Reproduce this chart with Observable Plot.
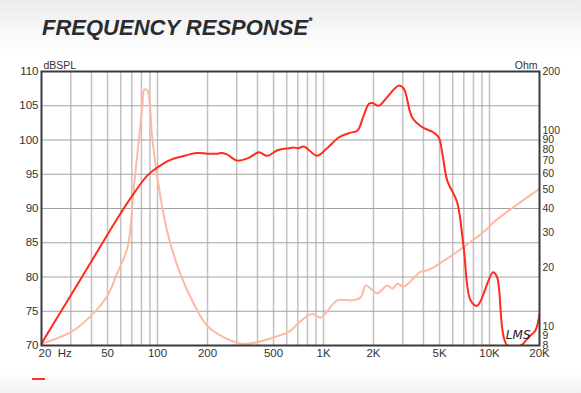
<!DOCTYPE html>
<html>
<head>
<meta charset="utf-8">
<script src="https://cdn.jsdelivr.net/npm/d3@7"></script>
<script src="https://cdn.jsdelivr.net/npm/@observablehq/plot@0.6"></script>
<style>
  html, body { margin: 0; padding: 0; }
  body {
    width: 581px; height: 393px; overflow: hidden; position: relative;
    background: linear-gradient(to bottom, #ececec 0px, #f7f7f7 30px, #ffffff 55px, #ffffff 372px, #f1f1f1 393px);
    font-family: "Liberation Sans", Arial, sans-serif;
  }
  #title {
    position: absolute; left: 42px; top: 15px;
    font: italic bold 22px "Liberation Sans", Arial, sans-serif;
    color: #2b2c31; white-space: nowrap; line-height: 26px;
  }
  #title sup { font-size: 11px; position: relative; top: 1px; vertical-align: top; line-height: 11px; }
  #chart { position: absolute; left: 0; top: 0; }
  #legend {
    position: absolute; left: 32px; top: 378px; width: 13px; height: 2px; background: #ff3322;
  }
</style>
</head>
<body>
<div id="title">FREQUENCY RESPONSE<sup>*</sup></div>
<div id="chart"></div>
<div id="legend"></div>
<script>
// SPL curve (Hz, dB SPL)
const splFreq = [20, 30, 40, 50, 60, 72, 86.7, 100, 119.6, 140, 173, 199, 230, 245, 262, 302, 354, 408, 458, 528, 618, 660, 705, 761, 914, 1030, 1240, 1427, 1603, 1740, 1878, 1967, 2156, 2370, 2846, 3044, 3420, 3920, 4600, 4940, 5200, 5560, 6380, 6980, 7680, 8420, 10500, 11100, 12800, 15400, 17200, 18900, 20000];
const splDb   = [70.3, 77.3, 82.3, 86.2, 89.3, 92.2, 94.8, 96.0, 97.1, 97.6, 98.1, 98.0, 98.0, 98.1, 97.9, 97.0, 97.4, 98.2, 97.7, 98.5, 98.8, 98.9, 98.8, 99.05, 97.7, 98.6, 100.4, 101.0, 101.4, 103.5, 105.3, 105.4, 105.0, 106.0, 107.95, 107.5, 103.3, 101.9, 101.1, 100.4, 98.0, 94.1, 90.9, 84.4, 76.6, 75.8, 80.7, 80.0, 70.0, 70.0, 71.2, 72.2, 74.6];

// Impedance curve (Hz, Ohm)
const impFreq = [20, 30, 40, 50, 57, 66, 72, 81, 83, 86.6, 92.8, 99.7, 114, 137, 165, 199, 251, 330, 502, 632, 696, 858, 960, 1212, 1486, 1678, 1794, 2112, 2420, 2600, 2780, 3044, 3840, 4200, 4800, 6980, 9680, 10600, 20000];
const impOhm  = [8.16, 9.35, 11.4, 14.4, 18.6, 25.4, 51.3, 133, 161, 161, 92.9, 57.8, 30.9, 18.6, 13.1, 10.1, 8.8, 8.15, 8.8, 9.5, 10.3, 11.6, 11.1, 13.6, 13.6, 14.1, 16.2, 14.8, 16.2, 15.6, 16.5, 16.0, 19.0, 19.3, 20.5, 25.4, 31.5, 34.1, 50.4];

// Axis ticks
const xTickValues = [50, 100, 200, 500, 1000, 2000, 5000, 10000, 20000];
const xTickLabels = ["50", "100", "200", "500", "1K", "2K", "5K", "10K", "20K"];
const dbTicks = [70, 75, 80, 85, 90, 95, 100, 105, 110];
const ohmTicks = [8, 9, 10, 20, 30, 40, 50, 60, 70, 80, 90, 100, 200];
const gridFreqs = [30, 40, 50, 60, 70, 80, 90, 100, 200, 300, 400, 500, 600, 700, 800, 900, 1000, 2000, 3000, 4000, 5000, 6000, 7000, 8000, 9000, 10000];
const gridDb = [75, 80, 85, 90, 95, 100, 105];

const ohmMin = 8, ohmMax = 200, dbMin = 70, dbMax = 110;
const ohmToDb = o => dbMin + (dbMax - dbMin) * Math.log(o / ohmMin) / Math.log(ohmMax / ohmMin);

const spl = splFreq.map((f, i) => ({f, v: splDb[i]}));
const imp = impFreq.map((f, i) => ({f, v: ohmToDb(impOhm[i])}));
const xLabels = xTickValues.map((f, i) => ({f, label: xTickLabels[i]}));

const fontFam = '"Liberation Sans", Arial, sans-serif';

const chart = Plot.plot({
  width: 581,
  height: 393,
  marginLeft: 41,
  marginRight: 42,
  marginTop: 71,
  marginBottom: 48,
  style: {background: "transparent", fontFamily: fontFam, fontSize: "11.5px", color: "#333"},
  x: {type: "log", domain: [20, 20000], axis: null},
  y: {domain: [dbMin, dbMax], axis: null},
  marks: [
    Plot.ruleX(gridFreqs, {stroke: "#c2c2c2", strokeWidth: 1.5}),
    Plot.ruleY(gridDb, {stroke: "#a3a3a3", strokeWidth: 1}),
    Plot.line(imp, {x: "f", y: "v", stroke: "#ffb8a2", strokeWidth: 2, curve: "catmull-rom"}),
    Plot.line(spl, {x: "f", y: "v", stroke: "#ff2b1c", strokeWidth: 2, curve: "catmull-rom", clip: true}),
    Plot.frame({stroke: "#3a3a3a", strokeWidth: 2}),
    Plot.text(xLabels, {x: "f", text: "label", frameAnchor: "bottom", lineAnchor: "top", dy: 3, fontSize: 11.5, fill: "#333"}),
    Plot.text(["20  Hz"], {x: [20], frameAnchor: "bottom", textAnchor: "start", lineAnchor: "top", dx: -3, dy: 3, fontSize: 11.5, fill: "#333", text: d => d}),
    Plot.axisY(dbTicks, {anchor: "left", tickSize: 0, tickPadding: 3, fontSize: 11.5, fill: "#333", label: null}),
    Plot.axisY(ohmTicks.map(ohmToDb), {anchor: "right", tickSize: 0, tickPadding: 3, fontSize: 10.5, fill: "#333", label: null, tickFormat: (d, i) => String(ohmTicks[i])}),
    Plot.text(["dBSPL"], {frameAnchor: "top-left", textAnchor: "start", lineAnchor: "bottom", dx: 2, dy: -3, fontSize: 10.5, fill: "#333", text: d => d}),
    Plot.text(["Ohm"], {frameAnchor: "top-right", textAnchor: "end", lineAnchor: "bottom", dx: -2, dy: -3, fontSize: 10.5, fill: "#333", text: d => d}),
    Plot.text(["LMS"], {frameAnchor: "bottom-right", textAnchor: "end", lineAnchor: "bottom", dx: -9, dy: -7, fontSize: 12, fontStyle: "italic", fill: "#222", text: d => d, fontFamily: "DejaVu Sans"})
  ]
});
chart.querySelectorAll("text").forEach(t => { if (t.textContent.includes("Hz")) t.setAttribute("xml:space", "preserve"); });
document.getElementById("chart").appendChild(chart);
</script>
</body>
</html>
